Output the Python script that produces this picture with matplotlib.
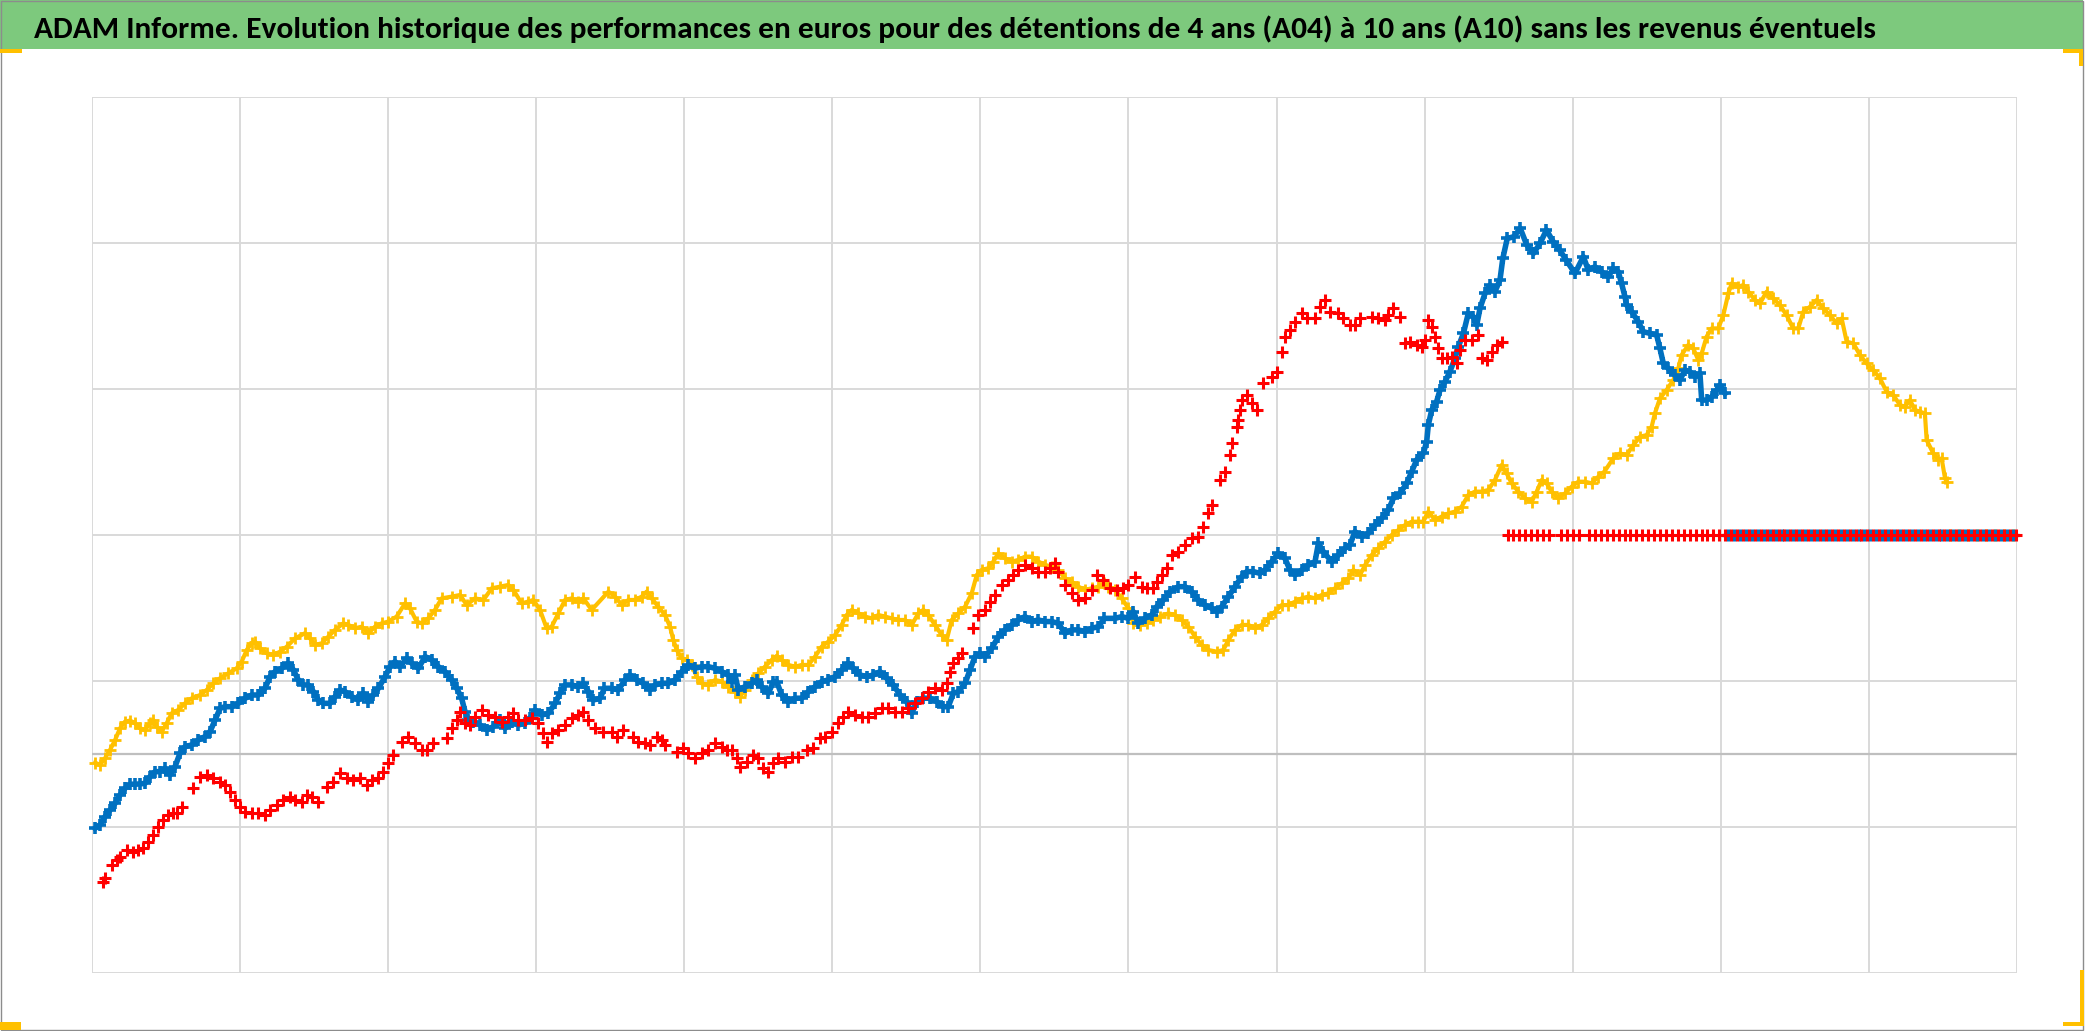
import matplotlib
matplotlib.use('Agg')
import matplotlib.pyplot as plt
from matplotlib import font_manager
from matplotlib.patches import Rectangle

W, H, DPI = 2086, 1031, 100

titre = ("ADAM Informe. Evolution historique des performances en euros pour des "
         "détentions de 4 ans (A04) à 10 ans (A10) sans les revenus éventuels")

# x : années depuis le début de l'historique, y : performance (euros)
jaune_x = [0.023, 0.056, 0.090, 0.124, 0.158, 0.191, 0.225, 0.259, 0.293, 0.326,
           0.360, 0.394, 0.416, 0.439, 0.473, 0.506, 0.540, 0.585, 0.630, 0.675,
           0.732, 0.777, 0.822, 0.867, 0.923, 0.979, 1.013, 1.047, 1.080, 1.103,
           1.137, 1.182, 1.227, 1.272, 1.317, 1.373, 1.440, 1.474, 1.508, 1.553,
           1.598, 1.643, 1.699, 1.733, 1.778, 1.823, 1.868, 1.913, 1.958, 2.003,
           2.059, 2.116, 2.149, 2.194, 2.228, 2.273, 2.318, 2.363, 2.431, 2.487,
           2.532, 2.588, 2.645, 2.701, 2.757, 2.813, 2.847, 2.903, 2.948, 2.982,
           3.027, 3.072, 3.106, 3.151, 3.196, 3.241, 3.286, 3.320, 3.376,
           3.489, 3.534, 3.579, 3.624, 3.669, 3.714, 3.747, 3.781, 3.826, 3.871,
           3.905, 3.927, 3.950, 3.984, 4.017, 4.051, 4.085, 4.119, 4.164, 4.209,
           4.254, 4.299, 4.344, 4.378, 4.411, 4.456, 4.501, 4.546, 4.591, 4.625,
           4.659, 4.704, 4.749, 4.794, 4.839, 4.884, 4.929, 4.974, 5.019, 5.064,
           5.098, 5.132, 5.177, 5.222, 5.267, 5.312, 5.357, 5.402, 5.447, 5.492,
           5.537, 5.582, 5.616, 5.649, 5.694, 5.739, 5.773, 5.807, 5.852, 5.897,
           5.942, 5.976, 6.009, 6.054, 6.088, 6.122, 6.167, 6.212, 6.257, 6.302,
           6.347, 6.392, 6.437, 6.482, 6.527, 6.572, 6.617, 6.662, 6.707, 6.752,
           6.797, 6.838,
           6.865, 6.910, 6.955, 7.000, 7.033, 7.078, 7.123, 7.168, 7.213, 7.270,
           7.315, 7.360, 7.405, 7.450, 7.495, 7.540, 7.596, 7.641, 7.675, 7.720,
           7.765, 7.810, 7.855, 7.900, 7.945, 7.990, 8.035, 8.080, 8.125, 8.170,
           8.215, 8.260, 8.305, 8.350, 8.395, 8.440, 8.485, 8.519, 8.564, 8.598,
           8.643, 8.688, 8.733, 8.778, 8.823, 8.868, 8.913, 8.958, 8.991, 9.025,
           9.070, 9.115, 9.160, 9.205, 9.250, 9.295, 9.340, 9.385, 9.430, 9.475,
           9.520, 9.554, 9.588, 9.633, 9.678, 9.723, 9.757, 9.791, 9.824, 9.858,
           9.903, 9.948, 9.993, 10.038, 10.083, 10.128, 10.173, 10.214,
           10.274, 10.319, 10.364, 10.409, 10.454, 10.499, 10.533, 10.555, 10.589, 10.634,
           10.679, 10.713, 10.735, 10.780, 10.814, 10.848, 10.871, 10.904, 10.938, 10.983,
           11.017, 11.051, 11.073, 11.118, 11.152, 11.186, 11.231, 11.264, 11.309, 11.354,
           11.399, 11.444, 11.489, 11.523, 11.557, 11.602, 11.647, 11.692, 11.737, 11.782,
           11.816, 11.850, 11.895, 11.940, 11.985, 12.030, 12.075, 12.120, 12.165, 12.210,
           12.243, 12.277, 12.311, 12.345, 12.378, 12.390, 12.435, 12.469, 12.491, 12.514,
           12.525]
jaune_y = [-6.1, -7.7, -3.1, 2.6, 9.4, 17.4, 22.0, 22.7, 20.8, 17.4,
           16.3, 20.8, 23.1, 18.5, 15.1, 20.8, 27.7, 30.0, 34.5, 37.9,
           40.2, 43.7, 48.2, 51.7, 55.1, 58.5, 63.1, 71.1, 75.6, 76.8,
           72.2, 68.8, 67.6, 69.9, 73.3, 79.0, 82.5, 79.0, 74.5, 75.6,
           80.2, 84.8, 89.3, 88.2, 85.9, 87.0, 82.5, 87.0, 89.3, 90.5,
           93.9, 103.0, 99.6, 90.5, 89.3, 92.8, 98.5, 106.4, 107.6, 108.7,
           101.9, 106.4, 105.3, 113.3, 114.4, 115.6, 112.2, 103.0, 104.2, 105.3,
           98.5, 85.9, 87.0, 96.2, 105.3, 106.4, 104.2, 106.4, 98.5,
           111.0, 107.6, 101.9, 105.3, 105.3, 107.6, 111.0, 106.4, 100.7, 95.0,
           87.0, 77.9, 71.1, 65.4, 64.2, 60.8, 52.8, 48.2, 47.1, 50.5,
           49.4, 45.9, 42.5, 39.1, 43.7, 50.5, 55.1, 59.6, 64.2, 67.0,
           64.2, 60.8, 59.6, 60.8, 60.8, 66.5, 73.3, 76.8, 81.3, 88.2,
           95.0, 98.5, 96.2, 93.9, 92.7, 95.0, 93.9, 92.7, 91.6, 91.6,
           88.2, 96.2, 98.5, 95.0, 88.2, 81.3, 77.9, 91.6, 96.2, 100.7,
           109.9, 122.4, 125.9, 127.0, 131.6, 137.3, 133.8, 131.6, 132.7, 135.0,
           135.0, 131.6, 129.3, 128.1, 125.9, 120.1, 117.9, 114.4, 112.2, 113.3,
           114.4, 116.7,
           114.4, 112.1, 106.4, 99.6, 89.3, 88.2, 89.3, 91.6, 93.9, 96.1,
           95.0, 91.6, 87.0, 80.2, 74.5, 71.0, 69.9, 71.0, 77.9, 84.7,
           88.2, 88.2, 85.9, 88.2, 92.7, 97.3, 101.8, 101.8, 104.1, 106.4,
           107.6, 106.4, 108.7, 109.8, 113.3, 116.7, 120.1, 125.8, 122.4, 129.2,
           136.1, 140.7, 145.2, 149.8, 153.2, 156.6, 158.9, 158.9, 158.9, 165.8,
           160.1, 162.4, 164.6, 165.8, 169.2, 177.2, 179.5, 179.5, 180.6, 187.5,
           197.7, 192.0, 185.2, 179.5, 174.9, 172.6, 179.5, 187.5, 185.2, 179.5,
           174.9, 178.3, 182.9, 186.3, 186.3, 185.2, 189.7, 193.2,
           202.3, 205.7, 204.5, 211.4, 217.1, 218.2, 223.9, 233.1, 243.4, 249.1,
           255.9, 263.9, 273.0, 279.9, 277.6, 269.6, 274.2, 285.6, 291.3, 291.3,
           300.4, 315.3, 322.1, 319.8, 321.0, 316.4, 310.7, 308.4, 316.4, 311.8,
           307.3, 300.4, 291.3, 291.3, 302.7, 306.1, 310.7, 305.0, 300.4, 294.7,
           298.1, 282.2, 281.0, 273.0, 267.3, 262.8, 257.0, 247.9, 245.6, 238.8,
           237.6, 242.2, 235.4, 234.2, 233.1, 214.8, 205.7, 201.1, 202.3, 188.6,
           186.3]

bleu_x = [0.023, 0.056, 0.090, 0.124, 0.158, 0.191, 0.225, 0.259, 0.293, 0.326,
          0.360, 0.394, 0.428, 0.461, 0.495, 0.529, 0.563, 0.596, 0.630, 0.675,
          0.720, 0.765, 0.799, 0.833, 0.867, 0.900, 0.945, 0.990, 1.035, 1.080,
          1.125, 1.170, 1.204, 1.238, 1.283, 1.328, 1.362, 1.395, 1.429, 1.463,
          1.497, 1.531, 1.564, 1.609, 1.643, 1.677, 1.711, 1.756, 1.801, 1.834,
          1.868, 1.902, 1.936, 1.981, 2.014, 2.048, 2.082, 2.127, 2.161, 2.206,
          2.251, 2.296, 2.341, 2.386, 2.431, 2.465, 2.498, 2.521, 2.543, 2.577,
          2.622, 2.667, 2.712, 2.757, 2.791, 2.836, 2.881, 2.926, 2.960, 2.994,
          3.039, 3.084, 3.129, 3.162, 3.196, 3.241, 3.286, 3.320, 3.354, 3.387,
          3.432, 3.462,
          3.511, 3.556, 3.601, 3.635, 3.680, 3.725, 3.770, 3.804, 3.849, 3.894,
          3.939, 3.984, 4.029, 4.074, 4.119, 4.164, 4.209, 4.254, 4.299, 4.321,
          4.344, 4.366, 4.411, 4.456, 4.490, 4.524, 4.569, 4.603, 4.625, 4.659,
          4.704, 4.749, 4.794, 4.839, 4.884, 4.929, 4.974, 5.019, 5.064, 5.109,
          5.143, 5.188, 5.233, 5.278, 5.323, 5.368, 5.413, 5.458, 5.503, 5.537,
          5.571, 5.616, 5.661, 5.706, 5.751, 5.784, 5.818, 5.852, 5.897, 5.931,
          5.964, 5.998, 6.032, 6.077, 6.122, 6.167, 6.212, 6.257, 6.302, 6.347,
          6.392, 6.437, 6.482, 6.527, 6.572, 6.617, 6.662, 6.707, 6.752, 6.797,
          6.838,
          6.910, 6.955, 7.000, 7.033, 7.067, 7.112, 7.157, 7.191, 7.236, 7.281,
          7.337, 7.382, 7.427, 7.472, 7.517, 7.562, 7.596, 7.630, 7.675, 7.720,
          7.765, 7.799, 7.844, 7.889, 7.922, 7.967, 8.012, 8.057, 8.091, 8.125,
          8.170, 8.215, 8.260, 8.283, 8.316, 8.373, 8.418, 8.463, 8.496, 8.530,
          8.575, 8.620, 8.665, 8.710, 8.755, 8.789, 8.834, 8.879, 8.913, 8.946,
          8.991, 9.014, 9.025, 9.048, 9.081, 9.104, 9.138, 9.171, 9.205, 9.228,
          9.262, 9.295, 9.329, 9.352, 9.374, 9.408, 9.442, 9.475, 9.509,
          9.528, 9.558, 9.602, 9.646, 9.690, 9.735, 9.779, 9.823, 9.868, 9.912,
          9.956, 10.015,
          10.072, 10.105, 10.150, 10.195, 10.240, 10.274, 10.308, 10.330, 10.353, 10.364,
          10.398, 10.443, 10.477, 10.522, 10.567, 10.589, 10.612, 10.645, 10.690, 10.724,
          10.758, 10.792, 10.826, 10.859, 10.871, 10.904, 10.938, 10.972, 10.994, 11.028]
bleu_y = [-51.1, -48.8, -43.1, -38.5, -34.0, -28.3, -23.7, -20.9, -20.9, -20.7,
          -20.3, -15.7, -12.3, -12.3, -10.0, -14.6, -8.8, 0.3, 4.8, 6.0,
          9.4, 11.7, 15.1, 23.1, 31.1, 32.2, 32.2, 34.5, 37.9, 40.2,
          40.2, 44.8, 52.8, 56.2, 58.5, 61.9, 57.4, 50.5, 47.1, 47.1,
          42.5, 36.8, 34.5, 34.5, 39.1, 43.7, 42.5, 39.1, 36.8, 41.4,
          35.7, 40.2, 44.8, 52.8, 59.6, 63.1, 59.6, 65.3, 61.9, 58.5,
          66.5, 64.2, 59.6, 56.2, 50.5, 44.8, 37.9, 28.8, 23.1, 22.0,
          19.7, 16.3, 18.5, 23.1, 17.4, 22.0, 19.7, 20.8, 24.3, 29.9,
          26.5, 27.7, 34.5, 41.4, 47.1, 47.1, 45.9, 48.2, 42.5, 36.8,
          37.9, 44.8,
          44.8, 43.7, 50.5, 53.9, 50.5, 48.2, 43.7, 47.1, 48.2, 48.2,
          50.5, 56.2, 60.8, 58.5, 59.6, 59.6, 58.5, 56.2, 53.9, 49.4,
          53.9, 43.7, 45.9, 48.2, 50.5, 45.9, 41.4, 49.4, 49.4, 40.2,
          35.7, 38.0, 38.0, 42.5, 45.9, 49.4, 50.5, 52.8, 57.4, 61.9,
          58.5, 53.9, 52.8, 53.9, 56.2, 51.7, 47.1, 40.2, 35.7, 27.7,
          35.7, 38.0, 38.0, 35.7, 32.2, 32.2, 41.4, 42.5, 48.2, 57.4,
          66.5, 68.8, 66.5, 72.2, 80.2, 84.8, 88.2, 91.6, 93.9, 90.5,
          91.6, 90.5, 90.5, 89.3, 82.5, 84.8, 84.8, 83.6, 85.9, 87.0,
          92.7,
          92.7, 93.9, 92.7, 97.3, 89.3, 92.7, 95.0, 100.7, 105.3, 111.0,
          114.4, 114.4, 111.0, 105.3, 101.8, 99.6, 97.3, 100.7, 107.6, 114.4,
          121.3, 124.7, 124.7, 123.5, 125.8, 131.5, 137.2, 133.8, 125.8, 122.4,
          125.8, 129.2, 131.5, 144.1, 138.4, 131.5, 136.1, 140.7, 143.0, 152.1,
          148.7, 150.9, 156.6, 161.2, 166.9, 174.9, 178.3, 185.2, 193.2, 201.2,
          205.7, 213.7, 225.1, 235.4, 241.1, 249.1, 254.8, 261.7, 270.8, 278.8,
          287.9, 301.6, 299.3, 293.6, 305.0, 315.3, 321.0, 316.5, 324.5,
          339.2, 352.9, 354.1, 359.8, 348.4, 342.7, 349.5, 358.7, 350.7, 345.0,
          338.1, 329.0,
          340.4, 331.3, 333.5, 330.1, 326.7, 332.4, 330.1, 322.1, 313.0, 307.3,
          302.7, 295.9, 289.0, 287.9, 286.7, 277.6, 267.3, 263.9, 259.3, 255.9,
          262.8, 261.6, 258.2, 260.5, 242.2, 242.2, 244.5, 249.1, 252.5, 246.8]

rouge_x = [0.079, 0.090, 0.135, 0.169, 0.191, 0.236, 0.281, 0.315, 0.349, 0.383,
           0.416, 0.450, 0.484, 0.518, 0.551, 0.574, 0.608, 0.687, 0.732, 0.777,
           0.822, 0.867, 0.900, 0.934, 0.968, 1.002, 1.035, 1.080, 1.125, 1.170,
           1.204, 1.249, 1.294, 1.339, 1.373, 1.418, 1.452, 1.486, 1.531, 1.587,
           1.632, 1.677, 1.722, 1.767, 1.812, 1.857, 1.891, 1.936, 1.969, 2.003,
           2.037, 2.093, 2.138, 2.183, 2.228, 2.262, 2.307, 2.397, 2.431, 2.465,
           2.487, 2.521, 2.555, 2.588, 2.633, 2.678, 2.723, 2.768, 2.813, 2.847,
           2.881, 2.926, 2.971, 3.016, 3.050, 3.072, 3.106, 3.151, 3.196, 3.241,
           3.286, 3.320, 3.354, 3.399, 3.455,
           3.511, 3.545, 3.590, 3.657, 3.691, 3.736, 3.770, 3.815, 3.849, 3.871,
           3.950, 3.995, 4.029, 4.074, 4.119, 4.164, 4.209, 4.254, 4.288, 4.321,
           4.355, 4.378, 4.423, 4.468, 4.501, 4.535, 4.569, 4.603, 4.636, 4.681,
           4.726, 4.771, 4.828, 4.873, 4.918, 4.952, 4.997, 5.042, 5.075, 5.109,
           5.154, 5.199, 5.244, 5.289, 5.334, 5.379, 5.424, 5.469, 5.514, 5.559,
           5.604, 5.649, 5.694, 5.739, 5.773, 5.796, 5.818, 5.852, 5.874, 5.953,
           5.987, 6.032, 6.065, 6.099, 6.144, 6.189, 6.223, 6.257, 6.302, 6.347,
           6.392, 6.437, 6.471, 6.505, 6.527, 6.572, 6.617, 6.662, 6.707, 6.752,
           6.786, 6.831,
           6.876, 6.921, 6.966, 7.000, 7.045, 7.090, 7.123, 7.168, 7.191, 7.225,
           7.258, 7.292, 7.337, 7.382, 7.427, 7.472, 7.506, 7.540, 7.562, 7.619,
           7.652, 7.686, 7.697, 7.731, 7.742, 7.754, 7.765, 7.799, 7.832, 7.866,
           7.911, 7.967, 8.001, 8.035, 8.057, 8.091, 8.125, 8.170, 8.204, 8.260,
           8.294, 8.328, 8.361, 8.418, 8.451, 8.496, 8.530, 8.564, 8.643, 8.688,
           8.733, 8.755, 8.789, 8.834, 8.868, 8.901, 8.946, 8.980, 9.003, 9.025,
           9.048, 9.070, 9.093, 9.115, 9.149, 9.183, 9.217, 9.239, 9.273, 9.318,
           9.363, 9.385, 9.419, 9.453, 9.487, 9.520]
rouge_y = [-87.6, -85.3, -76.2, -72.8, -70.5, -65.9, -67.1, -65.9, -64.8, -60.2,
           -55.7, -49.9, -45.4, -41.9, -40.8, -40.8, -36.2, -23.7, -15.7, -14.6,
           -16.8, -19.1, -21.4, -26.0, -31.7, -36.2, -39.7, -40.8, -40.8, -41.9,
           -38.5, -35.1, -31.7, -29.4, -31.7, -32.8, -28.3, -29.4, -32.8, -22.5,
           -19.1, -13.4, -16.8, -18.0, -16.8, -21.4, -18.0, -16.8, -12.3, -6.6,
           -0.9, 8.3, 11.7, 7.1, 2.6, 2.6, 7.1, 10.6, 17.4, 23.1,
           28.8, 20.8, 19.7, 25.4, 30.0, 26.5, 25.4, 22.0, 25.4, 27.7,
           23.1, 23.1, 24.3, 20.8, 14.0, 8.3, 14.0, 16.3, 19.7, 24.3,
           26.5, 28.8, 23.1, 17.4, 15.1,
           15.1, 11.7, 16.3, 11.7, 8.3, 7.1, 6.0, 11.7, 9.4, 6.0,
           1.4, 3.7, 0.3, -3.1, 0.3, 2.6, 7.1, 4.9, 2.6, 2.6,
           -3.1, -8.9, -5.4, -0.9, -3.1, -10.0, -12.3, -6.6, -3.1, -5.4,
           -2.0, -2.0, 2.6, 3.7, 10.6, 11.7, 15.1, 20.8, 25.4, 28.8,
           26.5, 25.4, 25.4, 27.7, 31.1, 31.1, 28.8, 28.8, 31.1, 34.5,
           37.9, 42.5, 44.8, 43.7, 48.2, 56.2, 61.9, 65.4, 68.8, 85.9,
           95.0, 98.5, 104.2, 108.7, 115.6, 119.0, 122.4, 125.9, 129.3, 127.0,
           124.7, 124.7, 127.0, 130.4, 124.7, 115.6, 109.9, 105.3, 106.4, 112.2,
           122.4, 119.0,
           113.3, 112.1, 113.3, 115.5, 121.3, 114.4, 113.3, 113.3, 117.8, 122.4,
           126.9, 136.1, 138.4, 142.9, 147.5, 148.7, 155.5, 164.6, 170.3, 187.5,
           193.2, 204.6, 212.6, 224.0, 228.6, 235.4, 242.3, 245.7, 239.9, 235.4,
           253.7, 258.2, 261.7, 275.4, 285.6, 290.2, 295.9, 301.6, 298.2, 298.2,
           306.2, 310.8, 302.8, 301.6, 298.2, 293.6, 293.6, 298.2, 299.3, 298.2,
           297.1, 300.5, 305.0, 299.3, 281.1, 282.2, 279.9, 278.8, 283.4, 297.1,
           292.5, 285.6, 277.6, 270.8, 270.8, 271.9, 267.4, 276.5, 283.4, 283.4,
           286.8, 270.8, 269.7, 275.4, 279.9, 282.2]

# fin de chaque série : valeur de remplacement constante
plancher = 150
rouge_fin_x = [9.56, 9.60, 9.64, 9.68, 9.72, 9.76, 9.80, 9.84, 9.92, 9.96,
               10.00, 10.04, 10.11, 10.15, 10.19, 10.23, 10.27, 10.31, 10.35, 10.39,
               10.43, 10.47, 10.51, 10.55, 10.59, 10.63, 10.67, 10.71, 10.75, 10.79,
               10.83, 10.87, 10.91, 10.95, 10.99, 11.03, 11.07, 11.11, 11.15, 11.19,
               11.23, 11.27, 11.31, 11.35, 11.39, 11.43, 11.47, 11.51, 11.55, 11.59,
               11.63, 11.67, 11.71, 11.75, 11.79, 11.83, 11.87, 11.91, 11.95, 11.99,
               12.03, 12.07, 12.11, 12.15, 12.19, 12.23, 12.27, 12.31, 12.35, 12.39,
               12.43, 12.47, 12.51, 12.55, 12.59, 12.63, 12.67, 12.71, 12.75, 12.79,
               12.83, 12.87, 12.91, 12.95, 12.99]
bleu_fin_x = [11.05, 11.09, 11.13, 11.17, 11.21, 11.25, 11.29, 11.33, 11.37, 11.41,
              11.45, 11.49, 11.53, 11.57, 11.61, 11.65, 11.69, 11.73, 11.77, 11.81,
              11.85, 11.89, 11.93, 11.97, 12.01, 12.05, 12.09, 12.13, 12.17, 12.21,
              12.25, 12.29, 12.33, 12.37, 12.41, 12.45, 12.49, 12.53, 12.57, 12.61,
              12.65, 12.69, 12.73, 12.77, 12.81, 12.85, 12.89, 12.93, 12.97]
jaune_fin_x = [12.55, 12.61, 12.67, 12.73, 12.79, 12.85, 12.91, 12.97]

# police du titre (Calibri ou équivalent)
dispo = {f.name for f in font_manager.fontManager.ttflist}
police = [p for p in ['Carlito', 'Lato'] if p in dispo] + ['DejaVu Sans']

fig = plt.figure(figsize=(W / DPI, H / DPI), dpi=DPI)


def px_rect(x0, y0, x1, y1, **kw):
    # rectangle in figure pixels, y measured from the top
    r = Rectangle((x0 / W, 1 - y1 / H), (x1 - x0) / W, (y1 - y0) / H,
                  transform=fig.transFigure, **kw)
    fig.add_artist(r)


# bandeau de titre, cadre et poignées de sélection
px_rect(0, 0, 2083, 49, facecolor='#7DC97D', edgecolor='none')
px_rect(0.5, 0.5, 2083, 1030, facecolor='none', edgecolor='#8C8C8C', lw=1)
for r in [(0, 49, 22, 53), (0, 1022, 21, 1030), (2063, 49, 2083, 53),
          (2079, 49, 2083, 66), (2063, 1022, 2084, 1026), (2080, 970, 2084, 1026)]:
    px_rect(*r, facecolor='#FFC000', edgecolor='none')

t = fig.text(34 / W, 1 - 38 / H, titre, fontsize=20, fontweight='bold',
             color='black', va='baseline', ha='left', family=police)
fig.canvas.draw()
bb = t.get_window_extent()
t.set_fontsize(20 * 1843 / bb.width)

ax = fig.add_axes([91.7 / W, 1 - 972.7 / H, (2017 - 91.7) / W, (972.7 - 96.7) / H])
ax.set_xlim(0, 13)
ax.set_ylim(-150, 450)
ax.set_xticks(range(0, 14))
ax.set_yticks(range(-150, 451, 100))
ax.tick_params(length=0, labelleft=False, labelbottom=False)
for s in ax.spines.values():
    s.set_visible(False)
ax.grid(True, color='#D9D9D9', lw=1.4)
ax.set_axisbelow(True)
ax.axhline(0, color='#BFBFBF', lw=1.6, zorder=1)

mk = dict(marker='+', clip_on=False)
ax.plot(jaune_x, jaune_y, color='#FFC000', lw=3, ms=9, mew=2, zorder=3, **mk)
ax.plot(jaune_fin_x, [plancher] * len(jaune_fin_x), color='#FFC000', ls='none',
        ms=9, mew=2, zorder=3, **mk)
ax.plot(bleu_x, bleu_y, color='#0070C0', lw=4, ms=9, mew=2.6, zorder=4, **mk)
ax.plot(bleu_fin_x, [plancher] * len(bleu_fin_x), color='#0070C0', ls='none',
        ms=9, mew=2.4, zorder=4, **mk)
ax.plot(rouge_x, rouge_y, color='#FF0000', ls='none', ms=8.5, mew=2.2, zorder=5, **mk)
ax.plot(rouge_fin_x, [plancher] * len(rouge_fin_x), color='#FF0000', ls='none',
        ms=8.5, mew=2.2, zorder=5, **mk)

fig.savefig('out.png', dpi=DPI)
